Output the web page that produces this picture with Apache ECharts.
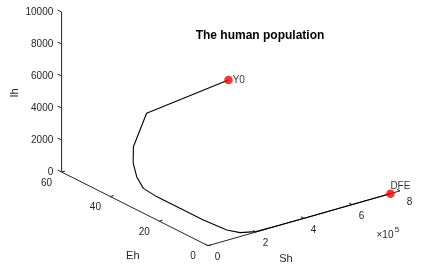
<!DOCTYPE html>
<html><head><meta charset="utf-8">
<script src="https://cdn.jsdelivr.net/npm/echarts@6/dist/echarts.min.js"></script>
<style>html,body{margin:0;padding:0;background:#fff}#c{width:429px;height:274px}</style>
</head><body><div id="c"></div>
<script>
// ---- data ----
const shTicks = [0, 200000, 400000, 600000, 800000];
const shTickLabels = ['0', '2', '4', '6', '8'];
const ehTicks = [0, 20, 40, 60];
const ihTicks = [0, 2000, 4000, 6000, 8000, 10000];
const sh = [507000, 283000, 172000, 162000, 141000, 114000, 114000, 120000, 122000, 132000, 154000, 202000, 300000, 420000, 550000, 660000, 730000, 760000];
const eh = [41.5, 53.0, 47.5, 46.6, 43.1, 37.7, 32.3, 23.3, 13.9, 5.3, 2.0, 0.2, 0.05, 0.01, 0, 0, 0, 0];
const ih = [5000, 3000, 1800, 900, 400, 200, 100, 40, 15, 5, 2, 1, 0.5, 0.2, 0, 0, 0, 0];
const pointNames = ['Y0', 'DFE'];

// ---- 3D view (projection of the axis box onto the page) ----
const range = { sh: [0, 800000], eh: [0, 60], ih: [0, 10000] };
const view = { origin: [208, 245.7], sh: [192, -54.8], eh: [-146.4, -73.7], ih: [0, -160] };
function proj(s, e, i) {
  const u = (s - range.sh[0]) / (range.sh[1] - range.sh[0]);
  const v = (e - range.eh[0]) / (range.eh[1] - range.eh[0]);
  const w = (i - range.ih[0]) / (range.ih[1] - range.ih[0]);
  return [view.origin[0] + u * view.sh[0] + v * view.eh[0] + w * view.ih[0],
          view.origin[1] + u * view.sh[1] + v * view.eh[1] + w * view.ih[1]];
}
function unit(vec) { const l = Math.hypot(vec[0], vec[1]); return [vec[0] / l, vec[1] / l]; }

const FONT = '"Liberation Sans", Arial, Helvetica, sans-serif';
const AX = '#262626';

const traj = sh.map((s, k) => proj(s, eh[k], ih[k]));
const last = sh.length - 1;
const marks = [
  { name: pointNames[0], value: proj(sh[0], eh[0], ih[0]) },
  { name: pointNames[1], value: proj(sh[last], eh[last], ih[last]),
    label: { position: 'top', distance: 0, offset: [10, 2] } }
];

function renderAxes(params, api) {
  const ch = [];
  const P = (p) => api.coord(p);
  function line(a, b, w) {
    const A = P(a), B = P(b);
    ch.push({ type: 'line', shape: { x1: A[0], y1: A[1], x2: B[0], y2: B[1] }, style: { stroke: AX, lineWidth: w || 1 } });
  }
  function text(p, dx, dy, str, opt) {
    const A = P(p);
    ch.push(Object.assign({ type: 'text', x: A[0] + dx, y: A[1] + dy,
      style: Object.assign({ text: str, fill: AX, font: '10px ' + FONT, align: 'center', verticalAlign: 'middle' }, (opt && opt.style) || {}) },
      (opt && opt.el) || {}));
  }
  const uEh = unit(view.eh), uSh = unit(view.sh);
  // Sh axis (Eh = 0, Ih = 0)
  line(proj(range.sh[0], 0, 0), proj(range.sh[1], 0, 0));
  shTicks.forEach((t, k) => {
    const p = proj(t, 0, 0);
    line(p, [p[0] + uEh[0] * 3.5, p[1] + uEh[1] * 3.5]);
    text(p, 9.5, 11.5, shTickLabels[k]);
  });
  // Eh axis (Sh = 0, Ih = 0)
  line(proj(0, range.eh[0], 0), proj(0, range.eh[1], 0));
  ehTicks.forEach((t) => {
    const p = proj(0, t, 0);
    line(p, [p[0] + uSh[0] * 3.5, p[1] + uSh[1] * 3.5]);
    text(p, -15, 11, String(t));
  });
  // Ih axis (Sh = 0, Eh = max)
  line(proj(0, range.eh[1], range.ih[0]), proj(0, range.eh[1], range.ih[1]));
  ihTicks.forEach((t) => {
    const p = proj(0, range.eh[1], t);
    line(p, [p[0] + uEh[0] * 4.5, p[1] + uEh[1] * 4.5]);
    text(p, -8.3, 0, String(t), { style: { align: 'right' } });
  });
  // exponent
  const sEnd = proj(range.sh[1], 0, 0);
  text(sEnd, -15, 44, '\u00d710', {});
  text(sEnd, -3, 39, '5', { style: { font: '8px ' + FONT } });
  // axis names
  const shMid = proj((range.sh[0] + range.sh[1]) / 2, 0, 0);
  text(shMid, -18, 41, 'Sh', { style: { font: '11px ' + FONT } });
  const ehMid = proj(0, (range.eh[0] + range.eh[1]) / 2, 0);
  text(ehMid, -2, 47, 'Eh', { style: { font: '11px ' + FONT } });
  const ihMid = proj(0, range.eh[1], (range.ih[0] + range.ih[1]) / 2);
  text(ihMid, -47, 1, 'Ih', { style: { font: '11px ' + FONT }, el: { rotation: Math.PI / 2 } });
  return { type: 'group', children: ch };
}

const chart = echarts.init(document.getElementById('c'), null, { renderer: 'canvas' });
chart.setOption({
  animation: false,
  backgroundColor: '#fff',
  title: { text: 'The human population', left: 255, top: 25, textAlign: 'center',
    textStyle: { fontFamily: FONT, fontSize: 12, fontWeight: 'bold', color: '#000' } },
  grid: { left: 0, right: 0, top: 0, bottom: 0 },
  xAxis: { type: 'value', min: 0, max: 429, show: false },
  yAxis: { type: 'value', min: 0, max: 274, inverse: true, show: false },
  series: [
    { type: 'custom', renderItem: renderAxes, data: [0], silent: true, z: 1 },
    { type: 'line', data: traj, showSymbol: false, symbol: 'none', smooth: false,
      lineStyle: { color: '#000', width: 1.1 }, z: 2 },
    { type: 'scatter', data: marks, symbolSize: 8.5, itemStyle: { color: '#ff0000' }, z: 3,
      label: { show: true, formatter: '{b}', fontFamily: FONT, fontSize: 10, color: '#000',
        position: 'right', distance: 0 } }
  ]
});
</script></body></html>
